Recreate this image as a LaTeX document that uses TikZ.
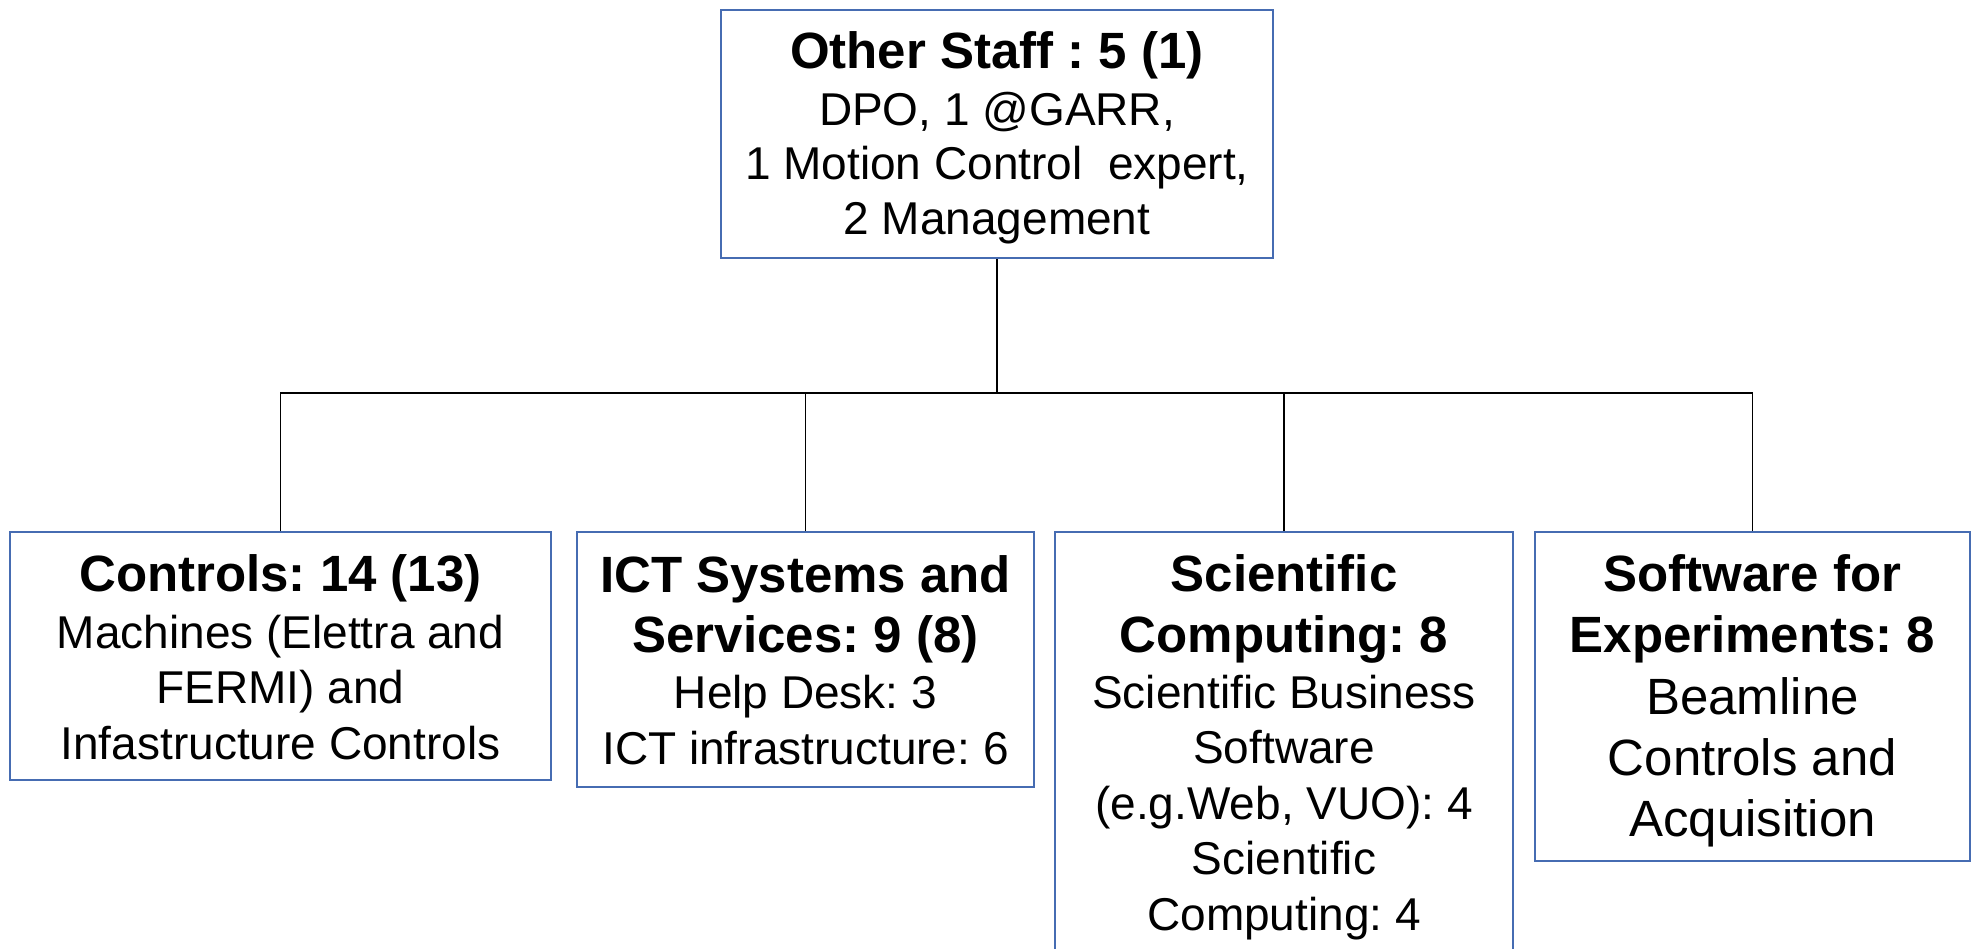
\documentclass[tikz,border=0pt]{standalone}
\usepackage{fontspec}
\setmainfont{Liberation Sans}
\usetikzlibrary{calc}
\frenchspacing

\definecolor{boxblue}{RGB}{70,108,178}

% multi-line cell text: baseline of the first line is the node's base
\newcommand\cellbody[3]{\parbox[t]{#1}{\centering\fontsize{46}{#2}\selectfont #3}}
\newcommand\hd[1]{{\fontsize{51}{61}\selectfont\bfseries #1}}

\tikzset{
  unit/.style={draw=boxblue, line width=2pt, rectangle, fill=white,
    anchor=north, inner sep=0pt, text=black},
  link/.style={draw=black, line width=1.8pt}
}

\begin{document}
\begin{tikzpicture}[x=1pt,y=1pt]
  \path[use as bounding box] (0,0) rectangle (1977,-948);
  \clip (0,0) rectangle (1977,-948);
  \fill[white] (0,0) rectangle (1977,-948);

  % head of the unit
  \node[unit, minimum width=552pt, text height=58pt, text depth=190pt] (top) at (997,-9)
    {\cellbody{540pt}{54.5}{\hd{Other Staff : 5 (1)}\\[2.5pt]
      DPO, 1 @GARR,\\ 1 Motion Control\ \ expert,\\ 2 Management}};

  % groups
  \node[unit, minimum width=541pt, text height=59pt, text depth=189pt] (ctrl) at (280.5,-531)
    {\cellbody{530pt}{55.5}{\hd{Controls: 14 (13)}\\[1.5pt]
      Machines (Elettra and\\ FERMI) and\\ Infastructure Controls}};

  \node[unit, minimum width=457pt, text height=60pt, text depth=195pt] (ict) at (805.5,-531)
    {\cellbody{445pt}{55.5}{\hd{ICT Systems and}\\[4.5pt]\hd{Services: 9 (8)}\\[1pt]
      Help Desk: 3\\ ICT infrastructure: 6}};

  \node[unit, minimum width=458pt, text height=59pt, text depth=370pt] (sci) at (1284,-531)
    {\cellbody{445pt}{55.5}{\hd{Scientific}\\[5.5pt]\hd{Computing: 8}\\[0.5pt]
      Scientific Business\\ Software\\ (e.g.Web, VUO): 4\\ Scientific\\ Computing: 4}};

  \node[unit, minimum width=435pt, text height=59pt, text depth=270pt] (exp) at (1752.5,-531)
    {\parbox[t]{425pt}{\centering\fontsize{51}{61}\selectfont
      \hd{Software for}\\[0.5pt]\hd{Experiments: 8}\\[0.5pt]
      Beamline\\[0.5pt] Controls and\\ Acquisition}};

  % connectors
  \coordinate (bus) at (997,-393);
  \draw[link] (top.south) -- (bus);
  \draw[link] (ctrl.north) |- (bus);
  \draw[link] (ict.north) |- (bus);
  \draw[link] (sci.north) |- (bus);
  \draw[link] (exp.north) |- (bus);
\end{tikzpicture}
\end{document}
